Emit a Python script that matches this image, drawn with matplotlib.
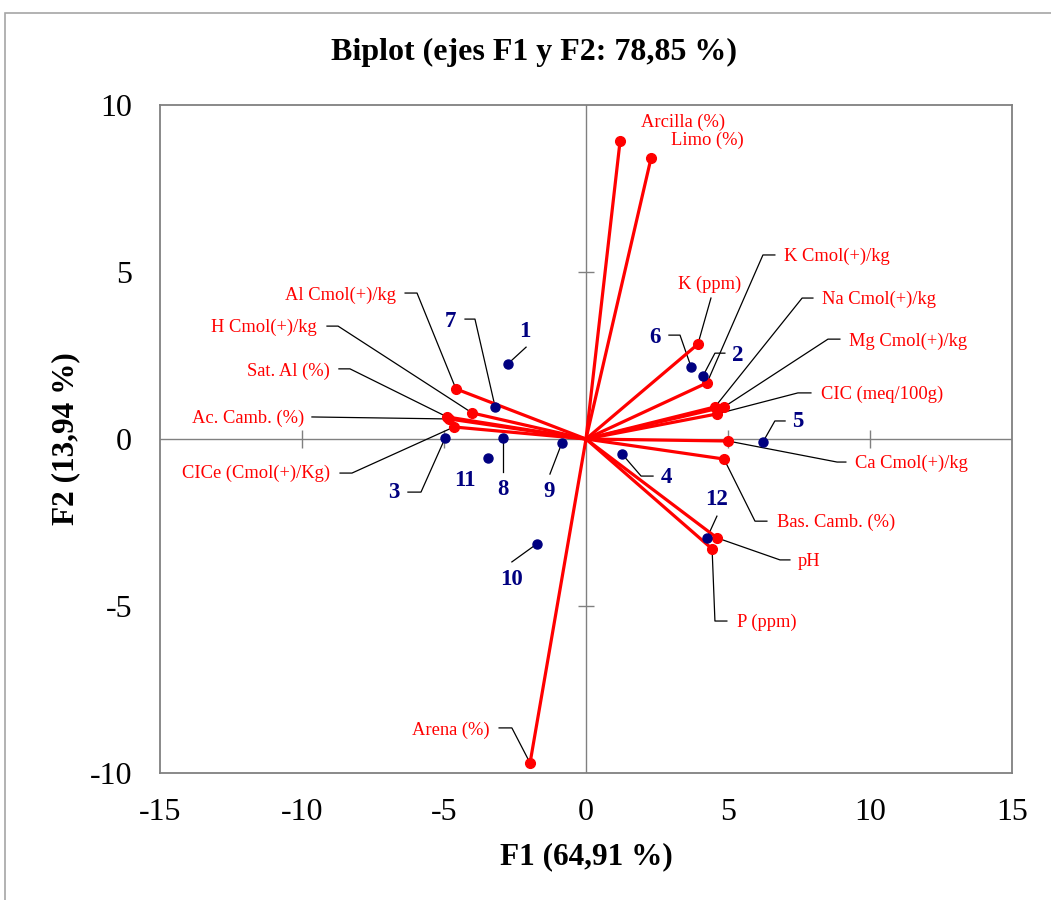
import matplotlib
matplotlib.use("Agg")
import matplotlib.pyplot as plt
from matplotlib.patches import Rectangle

plt.rcParams['font.family'] = ['Liberation Serif', 'DejaVu Serif']
plt.rcParams['axes.unicode_minus'] = False

# variables (loadings, scaled)
var_names = ["Arcilla (%)", "Limo (%)", "Al Cmol(+)/kg", "H Cmol(+)/kg", "Sat. Al (%)",
             "Ac. Camb. (%)", "CICe (Cmol(+)/Kg)", "K (ppm)", "K Cmol(+)/kg", "Na Cmol(+)/kg",
             "Mg Cmol(+)/kg", "CIC (meq/100g)", "Ca Cmol(+)/kg", "Bas. Camb. (%)", "pH",
             "P (ppm)", "Arena (%)"]
var_f1 = [1.20, 2.29, -4.58, -4.01, -4.89, -4.82, -4.65, 3.94, 4.26, 4.54,
          4.86, 4.61, 5.00, 4.86, 4.61, 4.44, -1.97]
var_f2 = [8.92, 8.41, 1.50, 0.78, 0.66, 0.60, 0.36, 2.84, 1.68, 0.96,
          0.96, 0.75, -0.06, -0.60, -2.96, -3.29, -9.70]

# observations
obs_names = ["1", "2", "3", "4", "5", "6", "7", "8", "9", "10", "11", "12"]
obs_f1 = [-2.75, 4.12, -4.96, 1.27, 6.23, 3.70, -3.20, -2.92, -0.85, -1.73, -3.45, 4.26]
obs_f2 = [2.25, 1.89, 0.03, -0.45, -0.09, 2.16, 0.96, 0.03, -0.12, -3.14, -0.57, -2.96]

# label placement: (text x, text y, ha, leader start, leader knee)
var_lab = [
    (1.94, 9.49, "left", None, None),
    (2.99, 8.95, "left", None, None),
    (-6.69, 4.31, "right", (-6.37, 4.37), (-5.95, 4.37)),
    (-9.47, 3.35, "right", (-9.12, 3.38), (-8.73, 3.38)),
    (-9.01, 2.04, "right", (-8.70, 2.10), (-8.31, 2.10)),
    (-9.93, 0.63, "right", (-9.65, 0.66), (-9.65, 0.66)),
    (-9.01, -1.02, "right", (-8.66, -1.02), (-8.24, -1.02)),
    (4.37, 4.64, "center", (4.40, 4.22), (4.40, 4.22)),
    (6.97, 5.48, "left", (6.65, 5.51), (6.23, 5.51)),
    (8.31, 4.19, "left", (7.99, 4.22), (7.61, 4.22)),
    (9.26, 2.93, "left", (8.94, 2.99), (8.52, 2.99)),
    (8.27, 1.35, "left", (7.92, 1.38), (7.46, 1.38)),
    (9.47, -0.72, "left", (9.15, -0.69), (8.84, -0.69)),
    (6.73, -2.49, "left", (6.37, -2.46), (5.95, -2.46)),
    (7.46, -3.68, "left", (7.18, -3.62), (6.83, -3.62)),
    (5.32, -5.48, "left", (4.96, -5.45), (4.54, -5.45)),
    (-3.38, -8.71, "right", (-3.06, -8.65), (-2.61, -8.65)),
]
obs_lab = [
    (-2.15, 3.23, (-2.11, 2.75), (-2.11, 2.75)),
    (5.35, 2.51, (4.89, 2.57), (4.54, 2.57)),
    (-6.76, -1.59, (-6.27, -1.59), (-5.81, -1.59)),
    (2.82, -1.14, (2.36, -1.11), (1.94, -1.11)),
    (7.46, 0.51, (7.01, 0.54), (6.65, 0.54)),
    (2.43, 3.05, (2.92, 3.11), (3.31, 3.11)),
    (-4.79, 3.53, (-4.26, 3.59), (-3.91, 3.59)),
    (-2.92, -1.50, (-2.92, -0.99), (-2.92, -0.99)),
    (-1.30, -1.56, (-1.27, -1.05), (-1.27, -1.05)),
    (-2.61, -4.22, (-2.61, -3.68), (-2.61, -3.68)),
    (-4.26, -1.23, None, None),
    (4.61, -1.80, (4.61, -2.31), (4.61, -2.31)),
]

red = "#FF0000"
navy = "#000080"
grey = "#808080"

fig = plt.figure(figsize=(10.51, 9.0), dpi=100)
fig.patches.append(Rectangle((5 / 1051, -0.05), 1.2, (900 - 13) / 900 + 0.05,
                             transform=fig.transFigure, fill=False,
                             edgecolor="#A6A6A6", linewidth=1.2))
ax = fig.add_axes([160 / 1051, 127 / 900, 852 / 1051, 668 / 900])

ax.set_xlim(-15, 15)
ax.set_ylim(-10, 10)

# zero lines and cross ticks
ax.axhline(0, color=grey, lw=1.0, zorder=1)
ax.axvline(0, color=grey, lw=1.0, zorder=1)
ax.plot([-10, -5, 5, 10], [0, 0, 0, 0], ls="none", marker="|", ms=13,
        mec=grey, mew=1.0, zorder=1)
ax.plot([0, 0], [-5, 5], ls="none", marker="_", ms=12, mec=grey, mew=1.0, zorder=1)

# leader lines
for (tx, ty, ha, s, k), x, y in zip(var_lab, var_f1, var_f2):
    if s is not None:
        ax.plot([s[0], k[0], x], [s[1], k[1], y], color="black", lw=0.9, zorder=2)
for (tx, ty, s, k), x, y in zip(obs_lab, obs_f1, obs_f2):
    if s is not None:
        ax.plot([s[0], k[0], x], [s[1], k[1], y], color="black", lw=0.9, zorder=2)

# vectors
for x, y in zip(var_f1, var_f2):
    ax.plot([0, x], [0, y], color=red, lw=2.3, zorder=3, solid_capstyle="round")
ax.plot(var_f1, var_f2, ls="none", marker="o", ms=7, color=red, zorder=4)
ax.plot(obs_f1, obs_f2, ls="none", marker="o", ms=6.5, color=navy, zorder=4)

for name, (tx, ty, ha, s, k) in zip(var_names, var_lab):
    ax.text(tx, ty, name, color=red, fontsize=13.3, ha=ha, va="center", zorder=5)
for name, (tx, ty, s, k) in zip(obs_names, obs_lab):
    ax.text(tx, ty, name, color=navy, fontsize=16.5, fontweight="bold",
            ha="center", va="center", zorder=5)

ax.set_xticks([-15, -10, -5, 0, 5, 10, 15])
ax.set_yticks([-10, -5, 0, 5, 10])
ax.tick_params(axis="x", length=0, pad=18, labelsize=23)
ax.tick_params(axis="y", length=0, pad=20, labelsize=23)
for sp in ax.spines.values():
    sp.set_color(grey)
    sp.set_linewidth(1.3)

ax.set_xlabel("F1 (64,91 %)", fontsize=22.5, fontweight="bold", labelpad=8)
ax.set_ylabel("F2 (13,94 %)", fontsize=22.5, fontweight="bold", labelpad=10)
ax.yaxis.set_label_coords(-(160 - 66) / 852, 0.5)
ax.xaxis.set_label_coords(0.5, -(857 - 773) / 668)
ax.xaxis.label.set_va("center")
ax.yaxis.label.set_va("center")
fig.text(534 / 1051, 1 - 52 / 900, "Biplot (ejes F1 y F2: 78,85 %)", fontsize=23,
         fontweight="bold", ha="center", va="center")

fig.savefig("out.png", dpi=100)
